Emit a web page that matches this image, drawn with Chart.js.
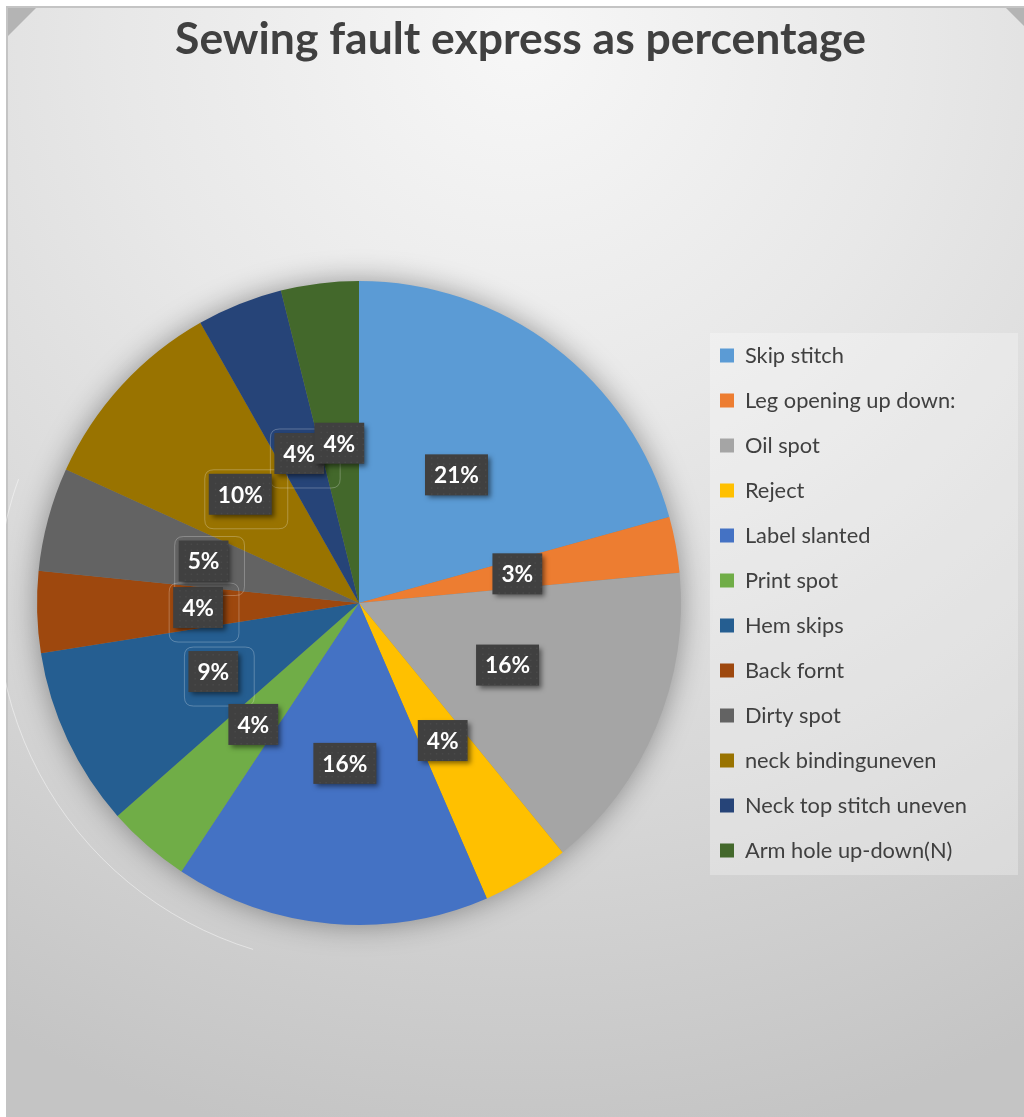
<!DOCTYPE html>
<html><head><meta charset="utf-8">
<script src="https://cdn.jsdelivr.net/npm/chart.js@4.4.0/dist/chart.umd.min.js"></script>
<style>html,body{margin:0;padding:0;background:#fff;}canvas{display:block;}</style>
</head><body><canvas id="c" width="1024" height="1117"></canvas>
<script>
// ---- data ----
const titleText = 'Sewing fault express as percentage';
const categories = ['Skip stitch','Leg opening up down:','Oil spot','Reject','Label slanted','Print spot','Hem skips','Back fornt','Dirty spot','neck bindinguneven','Neck top stitch uneven','Arm hole up-down(N)'];
const values = [20.7, 2.8, 15.6, 4.4, 15.8, 4.2, 9.0, 4.1, 5.2, 10.0, 4.3, 3.9];
const colors = ['#5B9BD5','#ED7D31','#A5A5A5','#FFC000','#4472C4','#70AD47','#255E91','#9E480E','#636363','#997300','#264478','#43682B'];

// ---- style helpers ----
const W = 1024, H = 1117;
const FAM = 'Lato, "Open Sans", sans-serif';
const mctx = document.createElement('canvas').getContext('2d');
function fit(text, weight, target){ mctx.font = weight + ' 100px ' + FAM; return 100*target/mctx.measureText(text).width; }
const titleSize = fit(titleText, 'bold', 691);
const legSize = fit('Neck top stitch uneven', 'normal', 222);
const lblSize = fit('21%', 'bold', 45);
const legPad = 45 - Math.max(legSize, 14);
mctx.font = 'normal ' + legSize + 'px ' + FAM;
let maxTW = 0; categories.forEach(c => maxTW = Math.max(maxTW, mctx.measureText(c).width));
const itemW = 14 + legSize/2 + maxTW;
const legendLeft = 720 - legPad;
const padRight = W - legendLeft - (legPad + itemW + 10);
const cx = 359, cy = 603, R = 322;
const padLeft = 2*cx - legendLeft;
const padTop = 130;
const padBottom = H - (2*cy - padTop);
const ghostIdx = [6,7,8,9,10];

function rr(ctx,x,y,w,h,r){ctx.beginPath();ctx.moveTo(x+r,y);ctx.lineTo(x+w-r,y);ctx.quadraticCurveTo(x+w,y,x+w,y+r);ctx.lineTo(x+w,y+h-r);ctx.quadraticCurveTo(x+w,y+h,x+w-r,y+h);ctx.lineTo(x+r,y+h);ctx.quadraticCurveTo(x,y+h,x,y+h-r);ctx.lineTo(x,y+r);ctx.quadraticCurveTo(x,y,x+r,y);ctx.closePath();}

const bgPlugin = {
  id:'bg',
  beforeDraw(chart){
    const ctx = chart.ctx; ctx.save();
    ctx.fillStyle='#fff'; ctx.fillRect(0,0,W,H);
    ctx.fillStyle='#c4c4c4'; ctx.fillRect(6,6,W-6,H-6);
    const g = ctx.createRadialGradient(520,40,0,520,40,1120);
    g.addColorStop(0,'#f7f7f7'); g.addColorStop(0.35,'#e8e8e8'); g.addColorStop(0.7,'#d6d6d6'); g.addColorStop(1,'#c4c4c4');
    ctx.fillStyle=g; ctx.fillRect(8,8,W-8,H-8);
    ctx.fillStyle='#b4b4b4';
    ctx.beginPath(); ctx.moveTo(8,8); ctx.lineTo(36,8); ctx.lineTo(8,36); ctx.closePath(); ctx.fill();
    ctx.beginPath(); ctx.moveTo(1006,8); ctx.lineTo(1024,8); ctx.lineTo(1024,26); ctx.closePath(); ctx.fill();
    // title
    ctx.fillStyle='#404040'; ctx.font='bold '+titleSize+'px '+FAM; ctx.textAlign='center'; ctx.textBaseline='middle';
    ctx.fillText(titleText, 520.5, 40);
    // legend panel
    ctx.fillStyle='rgba(255,255,255,0.28)';
    ctx.fillRect(710, 333, 308, 542);
    ctx.restore();
  },
  beforeDatasetsDraw(chart){
    const a = chart.getDatasetMeta(0).data[0]; if(!a) return;
    const ctx = chart.ctx; ctx.save();
    ctx.strokeStyle='rgba(255,255,255,0.45)'; ctx.lineWidth=1;
    ctx.beginPath(); ctx.arc(a.x, a.y, a.outerRadius*1.125, 107*Math.PI/180, 200*Math.PI/180); ctx.stroke();
    ctx.shadowColor='rgba(0,0,0,0.4)'; ctx.shadowBlur=30;
    ctx.fillStyle='#808080';
    ctx.beginPath(); ctx.arc(a.x, a.y, a.outerRadius-1, 0, Math.PI*2); ctx.fill();
    ctx.restore();
  }
};

const labelPlugin = {
  id:'pct',
  afterDatasetsDraw(chart){
    const meta = chart.getDatasetMeta(0);
    const data = chart.data.datasets[0].data;
    const total = data.reduce((s,v)=>s+v,0);
    const ctx = chart.ctx;
    ctx.save();
    ctx.font = 'bold ' + lblSize + 'px ' + FAM;
    const boxes = meta.data.map((arc,i)=>{
      const p = arc.tooltipPosition();
      const txt = Math.round(data[i]/total*100) + '%';
      const w = ctx.measureText(txt).width + 18, h = 41;
      return {x:p.x, y:p.y, txt, bx:p.x-w/2, by:p.y-h/2, w, h, i};
    });
    boxes.forEach(b=>{ if(ghostIdx.includes(b.i)){ ctx.strokeStyle='rgba(255,255,255,0.25)'; ctx.lineWidth=1; rr(ctx,b.bx-4,b.by-4,b.w+20,b.h+18,9); ctx.stroke(); }});
    boxes.forEach(b=>{
      ctx.save();
      ctx.shadowColor='rgba(0,0,0,0.5)'; ctx.shadowBlur=5; ctx.shadowOffsetX=3; ctx.shadowOffsetY=3;
      ctx.fillStyle='#404040'; ctx.fillRect(b.bx,b.by,b.w,b.h);
      ctx.restore();
      ctx.fillStyle='rgba(255,255,255,0.05)';
      for(let yy=b.by+3; yy<b.by+b.h; yy+=6) for(let xx=b.bx+3+((yy-b.by)%12?3:0); xx<b.bx+b.w; xx+=6) ctx.fillRect(xx,yy,1.5,1.5);
      ctx.fillStyle='#ffffff'; ctx.textAlign='center'; ctx.textBaseline='middle';
      ctx.fillText(b.txt, b.x, b.y+1);
    });
    ctx.restore();
  }
};

new Chart(document.getElementById('c'), {
  type:'pie',
  data:{ labels: categories, datasets:[{ data: values, backgroundColor: colors, borderWidth: 0, hoverOffset: 0 }] },
  options:{
    responsive:false, animation:false, devicePixelRatio:1,
    layout:{ padding:{ left: padLeft, right: padRight, top: padTop, bottom: padBottom } },
    radius: R,
    plugins:{
      title:{ display:false },
      legend:{ position:'right', align:'center', labels:{ boxWidth:14, boxHeight:14, padding:legPad, color:'#404040', font:{family:FAM, size:legSize} } },
      tooltip:{enabled:false}
    }
  },
  plugins:[bgPlugin, labelPlugin]
});
</script></body></html>
